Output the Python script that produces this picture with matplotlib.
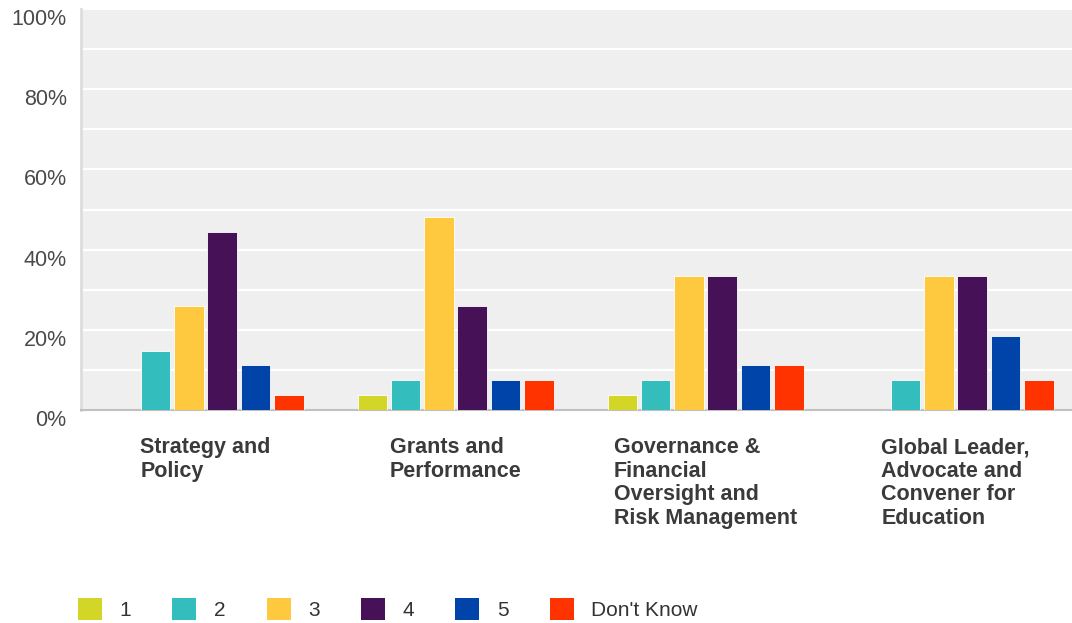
import numpy as np
import matplotlib.pyplot as plt
from matplotlib.patches import Patch

categories = ['Strategy and\nPolicy',
              'Grants and\nPerformance',
              'Governance &\nFinancial\nOversight and\nRisk Management',
              'Global Leader,\nAdvocate and\nConvener for\nEducation']
series = ['1', '2', '3', '4', '5', "Don't Know"]
colors = ['#d3d627', '#33bdbd', '#fec93e', '#461156', '#0043a9', '#ff3300']

# percent of respondents per rating
vals_1 = [0.0, 3.7, 3.7, 0.0]
vals_2 = [14.8, 7.4, 7.4, 7.4]
vals_3 = [25.9, 48.1, 33.3, 33.3]
vals_4 = [44.4, 25.9, 33.3, 33.3]
vals_5 = [11.1, 7.4, 11.1, 18.5]
vals_dk = [3.7, 7.4, 11.1, 7.4]
values = [vals_1, vals_2, vals_3, vals_4, vals_5, vals_dk]

plt.rcParams['font.family'] = ['Liberation Sans', 'DejaVu Sans']

fig = plt.figure(figsize=(10.72, 6.23), dpi=100)
# plot area runs past the right edge of the picture (cropped original)
ax = fig.add_axes([80.6/1072, 1 - 410/623, 1000/1072, 401/623])
ax.set_facecolor('#efefef')

x = np.arange(len(categories))
step = 33.3 / 250
width = 29.6 / 250
for k, (name, vals) in enumerate(zip(series, values)):
    ax.bar(x + (k - 2.5) * step, vals, width, color=colors[k],
           edgecolor='white', linewidth=0.6, label=name, zorder=3)

ax.set_xlim(-0.5, len(categories) - 0.5)
ax.set_ylim(0, 100)
ax.set_yticks(np.arange(0, 101, 10))
ax.set_yticklabels([f'{v}%' if v % 20 == 0 else '' for v in range(0, 101, 10)],
                   fontsize=15.5, color='#4a4a4a')
for t in ax.yaxis.get_major_ticks():
    t.label1.set_verticalalignment('top')
ax.grid(axis='y', color='white', linewidth=1.6, zorder=1)
ax.tick_params(axis='y', length=0, pad=10)
ax.set_xticks([])
for s in ['top', 'right']:
    ax.spines[s].set_visible(False)
ax.spines['left'].set_color('#dddddd')
ax.spines['left'].set_linewidth(2)
ax.spines['bottom'].set_color('#c0c0c0')
ax.spines['bottom'].set_linewidth(1.5)

for i, cat in enumerate(categories):
    ax.text(i, -6.8, cat, ha='center', va='top', multialignment='left',
            fontsize=15.5, fontweight='bold', color='#3a3a3a',
            linespacing=1.16)

handles = [Patch(facecolor=c, edgecolor='none') for c in colors]
fig.legend(handles, series, loc='center left', bbox_to_anchor=(78/1072, 1 - 609/623),
           ncol=6, frameon=False, fontsize=15, handlelength=1.15,
           handleheight=1.3, handletextpad=0.85, columnspacing=1.97,
           labelcolor='#333333', borderpad=0, borderaxespad=0)

fig.savefig('out.png', dpi=100)
